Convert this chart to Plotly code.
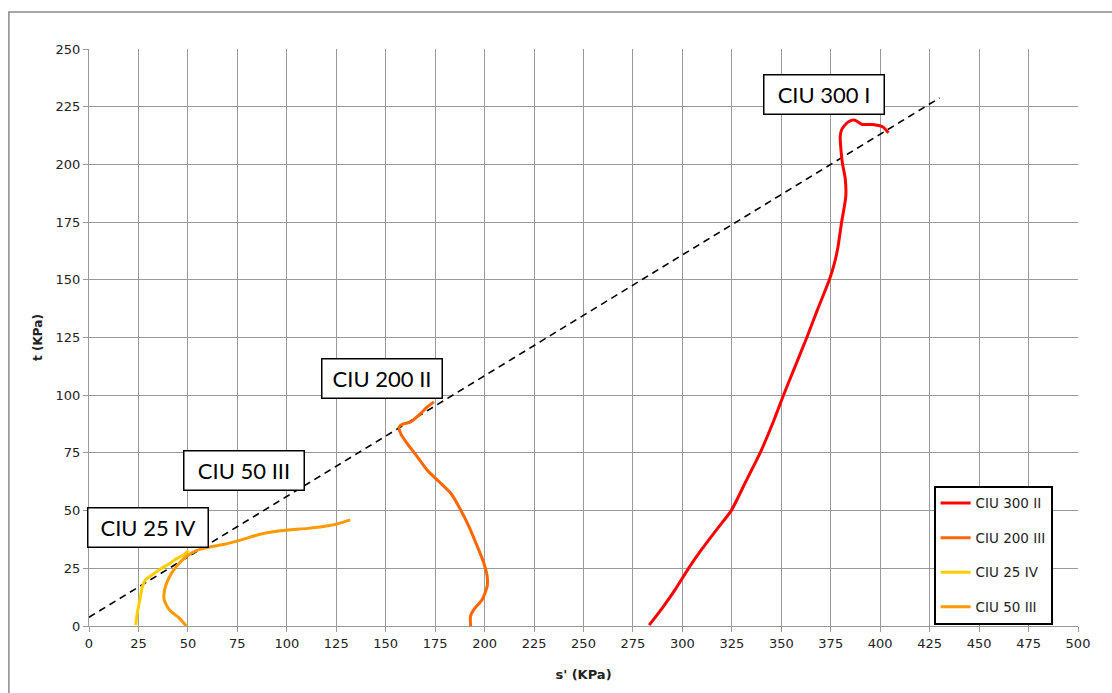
import plotly.graph_objects as go

# ---- data ----
s_300 = [283.2, 290.0, 296.5, 303.1, 310.0, 317.5, 324.7, 332.0, 339.3, 345.5, 351.1, 357.0, 362.9, 368.5,
         374.3, 376.8, 378.6, 380.5, 382.6, 382.3, 381.0, 380.3, 379.8, 380.5, 381.8, 384.0, 386.9, 391.0,
         396.1, 401.2, 404.2]
t_300 = [0.4, 8.0, 16.0, 25.0, 33.5, 42.0, 50.0, 62.5, 75.0, 87.5, 100.0, 112.5, 125.0, 137.5,
         150.0, 157.0, 164.0, 175.0, 186.0, 194.0, 200.0, 205.0, 212.3, 215.0, 216.7, 218.5, 219.2, 217.3,
         217.3, 216.3, 213.7]

s_200 = [192.9, 192.9, 194.6, 198.8, 201.3, 201.3, 199.6, 196.3, 192.1, 187.9, 182.9, 176.1, 171.0, 166.0,
         160.9, 157.6, 156.8, 158.4, 162.6, 167.6, 171.0, 174.4]
t_200 = [0.0, 4.3, 7.2, 11.5, 17.2, 21.5, 27.3, 34.5, 43.1, 50.3, 57.5, 63.2, 67.5, 73.3,
         79.0, 83.3, 86.2, 87.4, 88.4, 92.0, 94.9, 97.1]

s_25 = [23.6, 24.4, 25.7, 26.9, 28.5, 31.8, 36.8, 41.0, 44.4, 47.8, 50.3]
t_25 = [0.4, 5.5, 11.3, 16.8, 20.0, 22.1, 25.0, 27.2, 29.3, 30.8, 32.7]

s_50 = [49.2, 45.8, 40.7, 38.0, 38.2, 40.3, 44.1, 49.2, 54.2, 61.8, 68.6, 77.0, 85.5, 93.9, 100.6,
        110.8, 120.9, 127.7, 132.0]
t_50 = [0.0, 3.3, 6.9, 11.3, 15.6, 20.7, 25.7, 30.1, 32.7, 34.4, 35.4, 37.3, 39.5, 40.9, 41.6,
        42.3, 43.4, 44.8, 46.0]

s_line = [0, 430]
t_line = [3.8, 228.8]

series_names = ["CIU 300 II", "CIU 200 III", "CIU 25 IV", "CIU 50 III"]
series_colors = ["#FF0000", "#FF6600", "#FFCC00", "#FF9900"]

label_texts = ["CIU 300 I", "CIU 200 II", "CIU 50 III", "CIU 25 IV"]
label_s = [371.5, 148.3, 78.4, 29.6]
label_t = [230.3, 107.2, 67.4, 42.5]

x_ticks = list(range(0, 501, 25))
y_ticks = list(range(0, 251, 25))

fig = go.Figure()

fig.add_trace(go.Scatter(x=s_line, y=t_line, mode="lines", showlegend=False,
                         line=dict(color="black", width=1.6, dash="7px,5px"), hoverinfo="skip"))

for name, color, xs, ys in zip(series_names, series_colors,
                               [s_300, s_200, s_25, s_50], [t_300, t_200, t_25, t_50]):
    fig.add_trace(go.Scatter(x=xs, y=ys, mode="lines", name=name, legendgroup=name,
                             line=dict(color=color, width=3, shape="spline", smoothing=0.6)))

for txt, sx, ty in zip(label_texts, label_s, label_t):
    fig.add_annotation(x=sx, y=ty, xref="x", yref="y", text=txt, showarrow=False,
                       font=dict(family="Lato", size=22, color="black"),
                       bgcolor="white", bordercolor="black", borderwidth=1.5, borderpad=1,
                       width=117, height=36)

# outer chart border
fig.add_shape(type="rect", xref="paper", yref="paper", x0=-0.081, x1=1.2, y0=-0.3, y1=1.0642,
              line=dict(color="#8a8a8a", width=1.5), fillcolor="rgba(0,0,0,0)", layer="below")

axis_common = dict(showgrid=True, gridcolor="#9a9a9a", gridwidth=1, zeroline=False,
                   showline=True, linecolor="#9a9a9a", linewidth=1,
                   ticks="outside", ticklen=5, tickcolor="#9a9a9a",
                   tickfont=dict(family="DejaVu Sans", size=13, color="#222222"))

fig.update_xaxes(range=[0, 500], tickvals=x_ticks, ticktext=[str(v) for v in x_ticks],
                 title=dict(text="<b>s' (KPa)</b>", font=dict(family="DejaVu Sans", size=13, color="#222222"),
                            standoff=20), **axis_common)
fig.update_yaxes(range=[0, 250], tickvals=y_ticks, ticktext=[str(v) for v in y_ticks],
                 title=dict(text="<b>t (KPa)</b>", font=dict(family="DejaVu Sans", size=12, color="#222222"),
                            standoff=10), **axis_common)

fig.update_layout(
    width=1112, height=693,
    margin=dict(l=89, r=34, t=49, b=67),
    paper_bgcolor="white", plot_bgcolor="white",
    showlegend=True,
    legend=dict(x=0.854, y=0.002, xanchor="left", yanchor="bottom",
                bgcolor="white", bordercolor="black", borderwidth=2,
                font=dict(family="DejaVu Sans", size=13.5, color="#222222"),
                tracegroupgap=14, itemwidth=30),
)

fig.write_html("out.html")
